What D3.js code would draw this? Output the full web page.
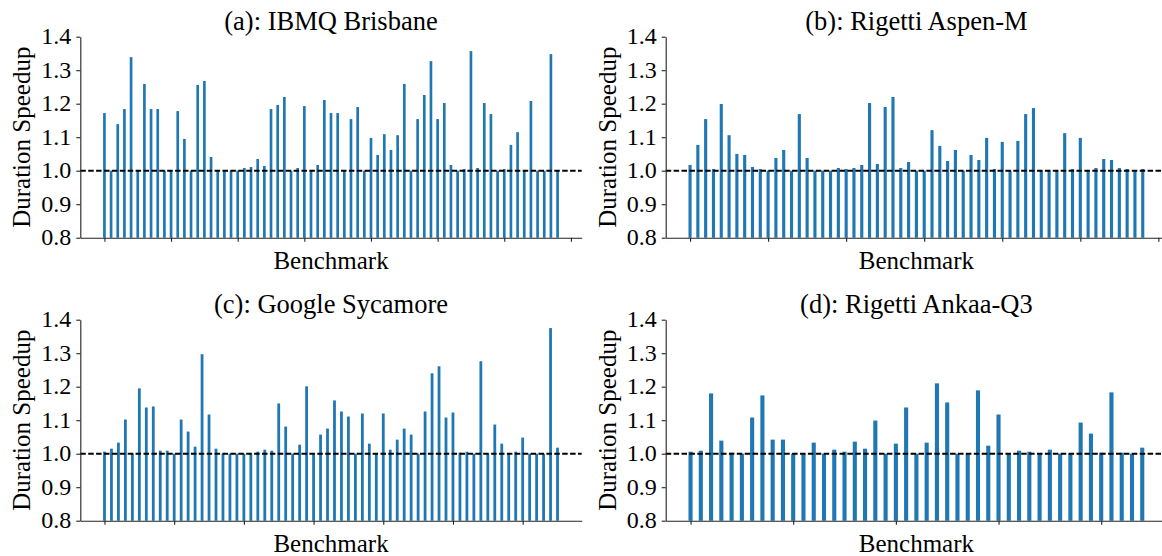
<!DOCTYPE html>
<html>
<head>
<meta charset="utf-8">
<script src="https://cdn.jsdelivr.net/npm/d3@7"></script>
</head>
<body style="margin:0">
<svg id="chart" width="1162" height="556"></svg>
<script>
// ---------- data ----------
const titles = ["(a): IBMQ Brisbane", "(b): Rigetti Aspen-M", "(c): Google Sycamore", "(d): Rigetti Ankaa-Q3"];
const yTicks = [0.8, 0.9, 1.0, 1.1, 1.2, 1.3, 1.4];
const xLabel = "Benchmark";
const yLabel = "Duration Speedup";
const baseline = 1.0;

const speedupA = [1.172, 1.0, 1.139, 1.184, 1.339, 1.0, 1.259, 1.184, 1.184, 1.0,
  1.0, 1.178, 1.095, 1.0, 1.256, 1.268, 1.041, 1.0, 1.0, 1.0,
  1.0, 1.008, 1.011, 1.035, 1.014, 1.184, 1.196, 1.22, 1.0, 1.008,
  1.193, 1.0, 1.017, 1.211, 1.172, 1.172, 1.0, 1.154, 1.19, 1.0,
  1.098, 1.047, 1.109, 1.062, 1.106, 1.259, 1.0, 1.154, 1.226, 1.327,
  1.154, 1.202, 1.017, 1.0, 1.005, 1.357, 1.008, 1.202, 1.169, 1.0,
  1.005, 1.077, 1.115, 1.0, 1.208, 1.0, 1.0, 1.348, 1.0];

const speedupB = [1.017, 1.077, 1.154, 1.005, 1.199, 1.106, 1.05, 1.047, 1.011, 1.005,
  1.0, 1.038, 1.062, 1.0, 1.169, 1.038, 1.0, 1.0, 1.0, 1.008,
  1.005, 1.008, 1.017, 1.202, 1.02, 1.19, 1.22, 1.008, 1.026, 1.0,
  1.0, 1.121, 1.074, 1.029, 1.062, 1.0, 1.047, 1.032, 1.098, 1.005,
  1.086, 1.0, 1.089, 1.169, 1.187, 1.0, 1.0, 1.0, 1.112, 1.005,
  1.098, 1.0, 1.008, 1.035, 1.032, 1.008, 1.005, 1.0, 1.005];

const speedupC = [1.006, 1.015, 1.033, 1.102, 1.0, 1.195, 1.138, 1.141, 1.009, 1.009,
  1.0, 1.102, 1.066, 1.021, 1.297, 1.117, 1.015, 1.0, 1.0, 1.0,
  1.0, 1.0, 1.006, 1.012, 1.009, 1.15, 1.081, 1.0, 1.027, 1.201,
  1.0, 1.057, 1.075, 1.159, 1.126, 1.111, 1.0, 1.12, 1.03, 1.0,
  1.12, 1.012, 1.042, 1.075, 1.057, 1.0, 1.126, 1.24, 1.261, 1.108,
  1.123, 1.003, 1.006, 1.0, 1.276, 1.0, 1.087, 1.03, 1.0, 1.006,
  1.048, 1.0, 1.0, 1.0, 1.375, 1.018];

const speedupD = [1.006, 1.009, 1.18, 1.039, 1.003, 1.0, 1.108, 1.174, 1.042, 1.042,
  1.0, 1.0, 1.033, 1.0, 1.012, 1.006, 1.036, 1.015, 1.099, 1.0,
  1.03, 1.138, 1.0, 1.033, 1.21, 1.153, 1.0, 1.0, 1.189, 1.024,
  1.117, 1.0, 1.009, 1.006, 1.0, 1.012, 1.0, 1.0, 1.093, 1.06,
  1.003, 1.183, 1.003, 1.0, 1.018];

const series = [speedupA, speedupB, speedupC, speedupD];

// ---------- layout ----------
const FONT = '"Liberation Serif"';
const BASE = 30;               // base font px; scaled down per text
const barWidth = 0.4;          // in category units
const axW = 501.4;
const lefts = [80.3, 665.7];
const tops = [36.7, 319.7];
const axH = 201;
const color = "#1f77b4";

const svg = d3.select("#chart");

// text placed at (px,py) with given size (px) and rotation
function label(px, py, size, anchor, str, rot) {
  const s = size / BASE;
  const t = svg.append("text")
    .attr("transform", `translate(${px},${py})${rot ? " rotate(" + rot + ")" : ""} scale(${s})`)
    .attr("text-anchor", anchor)
    .attr("fill", "#000")
    .style("font-family", FONT)
    .style("font-size", BASE + "px")
    .text(str);
  return t;
}

series.forEach((vals, k) => {
  const col = k % 2, row = Math.floor(k / 2);
  const left = lefts[col], top = tops[row], bottom = top + axH;
  const n = vals.length;
  const span = (n - 1) + barWidth;
  const m = 0.05 * span;
  const lo = -barWidth / 2 - m, hi = (n - 1) + barWidth / 2 + m;

  const x = d3.scaleLinear().domain([lo, hi]).range([left, left + axW]);
  const y = d3.scaleLinear().domain([0.8, 1.4]).range([bottom, top]);

  // bars
  svg.append("g").selectAll("rect").data(vals).join("rect")
    .attr("x", (d, i) => x(i - barWidth / 2))
    .attr("width", x(barWidth) - x(0))
    .attr("y", d => y(d))
    .attr("height", d => y(0.8) - y(d))
    .attr("fill", color);

  // baseline dashed line
  svg.append("line")
    .attr("x1", x(lo)).attr("x2", x(hi))
    .attr("y1", y(baseline)).attr("y2", y(baseline))
    .attr("stroke", "#000").attr("stroke-width", 2)
    .attr("stroke-dasharray", "5.5,2.4");

  // y axis (ticks + spine), labels drawn separately
  const ya = svg.append("g").attr("transform", `translate(${left},0)`)
    .call(d3.axisLeft(y).tickValues(yTicks).tickFormat("")
      .tickSize(4).tickSizeOuter(0));
  ya.selectAll("text").remove();
  ya.selectAll("line, path").attr("stroke", "#222").attr("stroke-width", 1.1);
  const fmt = d3.format(".1f");
  yTicks.forEach(v => {
    label(left - 9, y(v), 24, "end", fmt(v)).attr("dy", "0.32em");
  });

  // x axis
  const xa = svg.append("g").attr("transform", `translate(0,${bottom})`)
    .call(d3.axisBottom(x).tickValues(d3.range(0, hi, 10)).tickFormat("")
      .tickSize(4).tickSizeOuter(0));
  xa.selectAll("text").remove();
  xa.selectAll("line, path").attr("stroke", "#222").attr("stroke-width", 1.1);

  // title
  label(left + axW / 2, top - 7, 26.5, "middle", titles[k]);

  // x label
  label(left + axW / 2, bottom + 31, 25, "middle", xLabel);

  // y label
  label(left - 50, (top + bottom) / 2, 25, "middle", yLabel, -90);
});
</script>
</body>
</html>
